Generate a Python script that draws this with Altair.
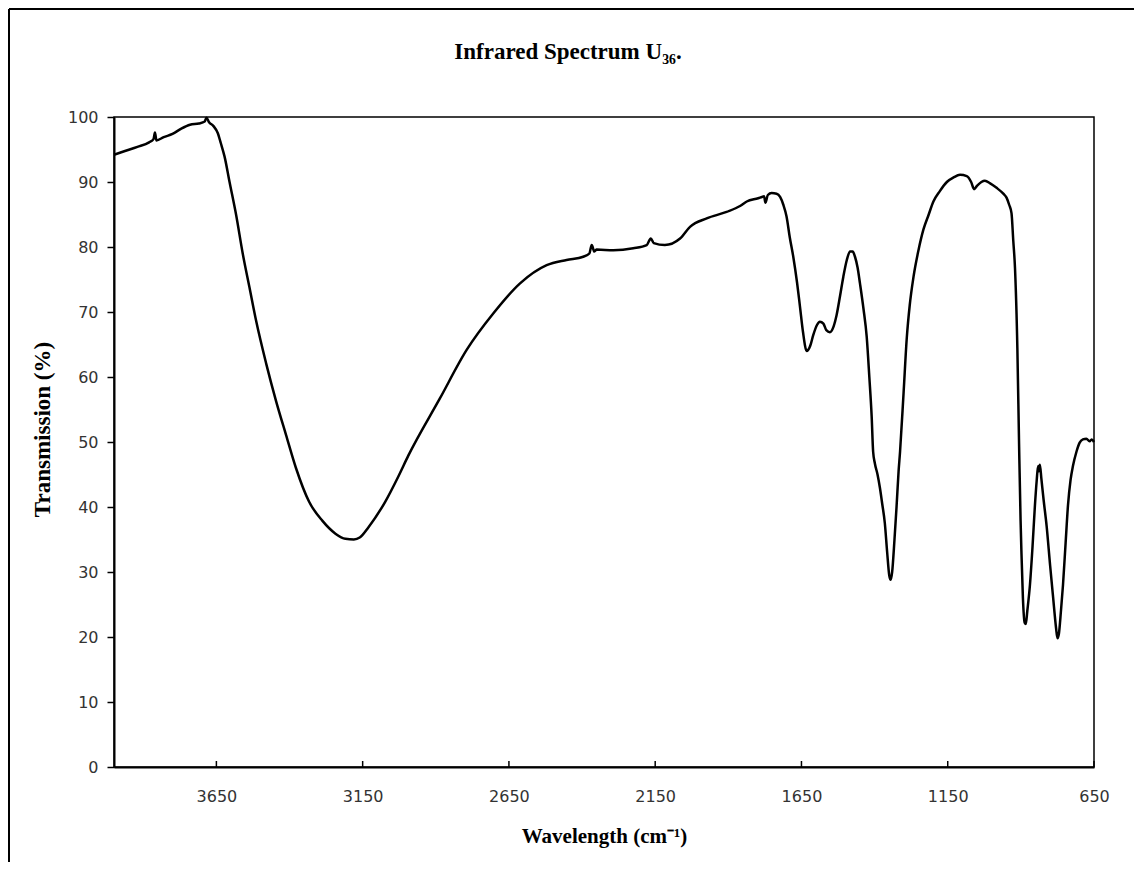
import altair as alt
import pandas as pd

wavenumber = [
    4000, 3960, 3920, 3880, 3865, 3860, 3855, 3830, 3800, 3770, 3740, 3710, 3690, 3684, 3675,
    3660, 3645, 3635, 3622, 3605, 3582, 3560, 3537, 3514, 3480, 3446, 3412, 3378, 3333, 3288,
    3243, 3209, 3180, 3160, 3130, 3073, 3028, 2994, 2886, 2794, 2703, 2612, 2521, 2453, 2396,
    2375, 2367, 2358, 2350, 2293, 2225, 2179, 2165, 2155, 2117, 2065, 2031, 1974, 1906, 1860,
    1837, 1798, 1785, 1778, 1773, 1765, 1752, 1735, 1723, 1712, 1701, 1690, 1678, 1665, 1655,
    1645, 1632, 1620, 1610, 1597, 1587, 1575, 1565, 1553, 1540, 1530, 1518, 1507, 1495, 1484,
    1475, 1467, 1458, 1450, 1438, 1427, 1418, 1410, 1405, 1399, 1390, 1382, 1374, 1365, 1357,
    1350, 1345, 1340, 1332, 1325, 1318, 1313, 1301, 1290, 1280, 1267, 1250, 1233, 1215, 1199,
    1177, 1153, 1130, 1108, 1085, 1070, 1060, 1050, 1035, 1023, 1005, 983, 960, 949, 940,
    932, 926, 920, 912, 906, 901, 898, 893, 887, 883, 878, 869, 860, 852, 846,
    841, 838, 835, 830, 822, 812, 800, 790, 780, 775, 770, 763, 756, 747, 739,
    730, 722, 710, 699, 688, 676, 665, 658, 650,
]
transmission = [
    94.2, 94.8, 95.4, 96.1, 96.6, 97.6, 96.4, 96.9, 97.4, 98.2, 98.8, 99.0, 99.3, 99.9, 99.2,
    98.6, 97.5, 96.0, 93.9, 90.0, 84.8, 79.0, 73.8, 68.6, 62.1, 56.3, 51.1, 46.0, 40.8, 37.9,
    35.9, 35.1, 35.0, 35.3, 36.9, 40.8, 44.7, 47.9, 56.7, 64.2, 69.8, 74.4, 77.2, 78.0, 78.5,
    79.0, 80.3, 79.3, 79.6, 79.5, 79.8, 80.3, 81.3, 80.6, 80.3, 81.3, 83.1, 84.4, 85.4, 86.3,
    87.0, 87.5, 87.7, 87.8, 86.8, 88.0, 88.3, 88.2, 87.7, 86.5, 84.7, 81.5, 78.5, 74.5, 70.8,
    67.0, 64.0, 64.8, 66.4, 68.0, 68.5, 68.2, 67.2, 66.9, 67.8, 69.5, 72.5, 75.4, 78.0, 79.3,
    79.3, 78.5, 76.8, 74.4, 70.5, 66.2, 60.0, 53.9, 48.5, 46.7, 45.0, 43.0, 40.5, 37.5, 33.0,
    29.5, 28.8, 30.0, 35.0, 40.0, 45.5, 48.5, 57.5, 66.0, 71.0, 75.4, 79.5, 82.7, 85.0, 87.0,
    88.6, 90.0, 90.7, 91.1, 90.9, 90.0, 88.9, 89.4, 90.0, 90.2, 89.8, 89.1, 88.2, 87.6, 86.5,
    85.2, 81.0, 76.7, 64.5, 49.3, 38.0, 33.0, 26.0, 22.2, 22.0, 24.0, 28.0, 34.0, 40.2, 44.0,
    46.3, 45.5, 46.5, 44.4, 41.0, 37.1, 31.0, 26.2, 21.5, 19.8, 20.5, 24.0, 28.0, 34.5, 40.2,
    44.2, 46.3, 48.5, 49.9, 50.4, 50.5, 50.1, 50.4, 50.0,
]
x_ticks = [3650, 3150, 2650, 2150, 1650, 1150, 650]
y_ticks = [0, 10, 20, 30, 40, 50, 60, 70, 80, 90, 100]

df = pd.DataFrame({"wn": wavenumber, "T": transmission})
ticks_df = pd.DataFrame({"wn": x_ticks})

W, H = 980, 650
xscale = alt.Scale(domain=[650, 4000], reverse=True, nice=False, zero=False)
yscale = alt.Scale(domain=[0, 100], nice=False)

xaxis = alt.Axis(
    values=x_ticks, format="d", title="Wavelength (cm⁻¹)", grid=False, ticks=False, tickSize=0,
    labelFlush=False, labelOverlap=False,
    labelFont="DejaVu Sans", labelFontSize=16, labelColor="#333333", labelPadding=21,
    domainColor="black", domainWidth=2,
    titleFont="Liberation Serif", titleFontSize=21, titleFontWeight="bold", titleColor="black",
    titleX=490, titleY=75, titleBaseline="alphabetic", titleAlign="center",
)
yaxis = alt.Axis(
    values=y_ticks, format="d", title="Transmission (%)", grid=False, tickSize=7, tickColor="black",
    tickWidth=1.5, labelFlush=False, labelOverlap=False,
    labelFont="DejaVu Sans", labelFontSize=16, labelColor="#333333",
    labelPadding=9, domainColor="black", domainWidth=2,
    titleFont="Liberation Serif", titleFontSize=23, titleFontWeight="bold", titleColor="black",
    titleX=-72, titleY=312, titleAngle=270, titleBaseline="middle", titleAlign="center",
)

line = alt.Chart(df).mark_line(color="black", strokeWidth=2.5, interpolate="monotone").encode(
    x=alt.X("wn:Q", scale=xscale, axis=xaxis),
    y=alt.Y("T:Q", scale=yscale, axis=yaxis),
    order=alt.Order("wn:Q", sort="descending"),
)

inner_ticks = alt.Chart(ticks_df).mark_rule(color="black", strokeWidth=1.5).encode(
    x=alt.X("wn:Q", scale=xscale),
    y=alt.value(H),
    y2=alt.value(H - 6),
)

frame_df = pd.DataFrame({"k": [0]})
border_top = alt.Chart(frame_df).mark_rule(color="black", strokeWidth=2).encode(
    x=alt.value(-105), x2=alt.value(W + 40), y=alt.value(-108)
)
border_left = alt.Chart(frame_df).mark_rule(color="black", strokeWidth=2).encode(
    x=alt.value(-105), y=alt.value(-108), y2=alt.value(H + 95)
)

chart = alt.layer(line, inner_ticks, border_top, border_left).properties(
    width=W,
    height=H,
    title=alt.TitleParams(
        "Infrared Spectrum U₃₆.", font="Liberation Serif", fontSize=23, fontWeight="bold",
        color="black", anchor="middle", frame="group", dx=-36, dy=74, offset=0,
        baseline="alphabetic",
    ),
    autosize=alt.AutoSizeParams(type="none"),
    padding={"left": 106, "top": 109, "right": 40, "bottom": 95},
).configure_view(stroke="black", strokeWidth=1.5, fill="white")

chart.save("out.html", embed_options={"renderer": "svg", "actions": False})
